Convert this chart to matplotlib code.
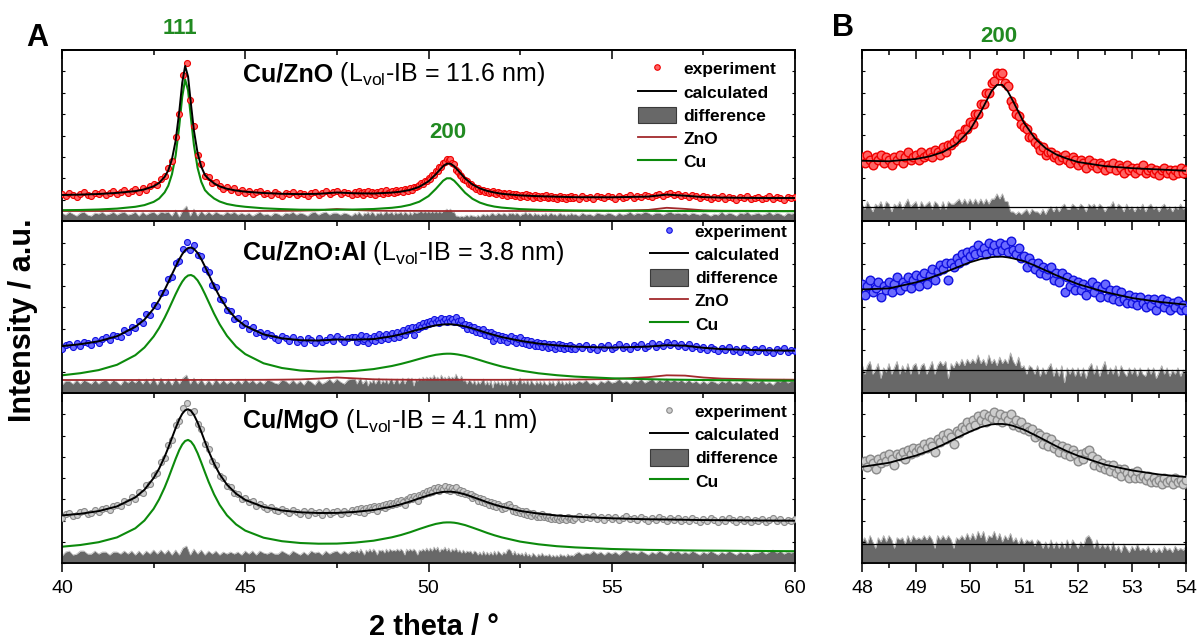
import numpy as np
import matplotlib
matplotlib.use("Agg")
import matplotlib.pyplot as plt
from matplotlib.ticker import MultipleLocator, LinearLocator
from matplotlib.lines import Line2D
from matplotlib.patches import Patch

plt.rcParams["font.family"] = "Liberation Sans"
plt.rcParams["mathtext.fontset"] = "custom"
plt.rcParams["mathtext.rm"] = "Liberation Sans"
plt.rcParams["mathtext.bf"] = "Liberation Sans:bold"
plt.rcParams["mathtext.it"] = "Liberation Sans:italic"

# 2 theta grid of the fitted curves (calculated pattern and phase components)
tt_fit = [40, 40.5, 41, 41.5, 42, 42.25, 42.5, 42.65, 42.8, 42.9,
          43.0, 43.1, 43.2, 43.28, 43.36, 43.44, 43.52, 43.6, 43.7, 43.8,
          43.9, 44.0, 44.15, 44.3, 44.5, 44.75, 45, 45.5, 46, 46.5,
          47, 47.5, 48, 48.5, 49, 49.25, 49.5, 49.75, 50, 50.2,
          50.4, 50.5, 50.6, 50.7, 50.8, 51, 51.2, 51.4, 51.6, 51.8,
          52, 52.5, 53, 53.5, 54, 55, 56, 56.5, 57, 57.5,
          58, 59, 60]

# 2 theta of the measured points: 0.1 deg steps, 0.05 deg between 48 and 54
tt_obs = np.round(np.concatenate([np.arange(400, 480) / 10,
                                  np.arange(960, 1080) / 20,
                                  np.arange(540, 601) / 10]), 2)

# ---- Cu/ZnO ----
cu_zno_calc = [26.0, 26.4, 27.0, 28.1, 29.9, 31.6, 34.7, 38.1, 44.1, 50.6,
               61.8, 80.1, 109.5, 138.1, 155.1, 144.4, 116.5, 90.4, 67.9, 54.3,
               46.0, 42.1, 37.6, 34.6, 32.2, 30.5, 29.3, 28.0, 27.2, 26.9,
               27.2, 28.5, 27.7, 27.5, 28.4, 29.4, 31.1, 34.2, 39.7, 46.8,
               54.9, 57.3, 57.3, 54.8, 50.8, 42.5, 36.5, 32.6, 30.1, 28.5,
               27.2, 25.6, 24.8, 24.3, 23.8, 23.7, 24.4, 26.4, 25.3, 23.9,
               23.4, 23.0, 23.0]
cu_zno_cu = [10.8, 11.0, 11.5, 12.4, 14.2, 15.9, 19.1, 22.5, 28.6, 35.3,
             46.7, 65.3, 95.2, 124.2, 141.5, 130.6, 102.3, 75.9, 53.1, 39.2,
             30.9, 27.0, 22.5, 19.5, 17.0, 15.3, 14.2, 12.7, 11.9, 11.3,
             11.2, 11.3, 11.5, 12.0, 13.2, 14.3, 16.2, 19.3, 24.9, 32.1,
             40.3, 42.7, 42.7, 40.3, 36.4, 28.2, 22.2, 18.4, 16.0, 14.4,
             13.4, 11.9, 11.2, 10.8, 10.5, 10.2, 10.1, 10.0, 10.0, 9.9,
             9.9, 9.9, 9.8]
cu_zno_zno = [10.0, 10.0, 10.0, 10.0, 10.0, 10.0, 10.0, 10.0, 10.0, 10.0,
              10.0, 10.0, 10.0, 10.0, 10.0, 10.0, 10.0, 10.0, 10.0, 10.0,
              10.0, 10.0, 10.0, 10.0, 10.0, 10.0, 10.0, 10.05, 10.1, 10.3,
              10.7, 12.0, 10.9, 10.3, 10.15, 10.1, 10.1, 10.05, 10.05, 10.0,
              10.0, 10.0, 10.0, 10.0, 10.0, 10.0, 10.0, 10.0, 10.0, 10.0,
              10.0, 10.0, 10.05, 10.05, 10.1, 10.2, 11.1, 13.2, 12.1, 10.7,
              10.3, 10.1, 10.1]
cu_zno_obs = [27, 25, 28, 26, 24, 27, 29, 26, 25, 28,
              27, 29, 26, 28, 30, 27, 29, 31, 28, 30,
              32, 29, 33, 31, 35, 37, 36, 42, 45, 53,
              60, 84, 107, 146, 158, 121, 95, 66, 57, 45,
              44, 38, 39, 35, 32, 34, 31, 33, 29, 31,
              28, 30, 27, 29, 30, 27, 28, 26, 29, 27,
              25, 28, 27, 29, 26, 28, 27, 25, 28, 29,
              26, 28, 30, 27, 29, 30, 27, 29, 28, 26,
              29, 27, 30, 28, 26, 29, 28, 30, 27, 29,
              28, 26, 29, 28, 30, 27, 29, 31, 28, 29,
              30, 28, 31, 29, 30, 31, 29, 32, 31, 30,
              33, 31, 34, 34, 35, 36, 38, 37, 40, 40,
              43, 42, 46, 46, 50, 50, 54, 54, 58, 59,
              62, 61, 62, 58, 57, 51, 49, 46, 45, 42,
              41, 40, 37, 37, 35, 34, 32, 33, 30, 31,
              31, 29, 30, 28, 29, 30, 28, 27, 29, 28,
              26, 28, 27, 25, 28, 26, 27, 25, 27, 26,
              24, 26, 25, 27, 24, 26, 25, 23, 26, 24,
              25, 23, 25, 24, 26, 23, 24, 25, 23, 24,
              22, 24, 25, 23, 24, 22, 24, 23, 25, 23,
              24, 22, 25, 23, 24, 22, 25, 24, 23, 25,
              24, 22, 25, 23, 24, 26, 23, 25, 24, 26,
              25, 24, 26, 27, 25, 27, 28, 26, 27, 25,
              26, 24, 26, 25, 23, 25, 24, 22, 24, 23,
              25, 22, 24, 23, 21, 24, 23, 25, 22, 23,
              24, 22, 23, 25, 22, 24, 23, 21, 24, 23,
              24]
cu_zno_diff = [1, -1, 2, 0, -2, 1, 2, -1, -2, 1,
               0, 2, -1, 0, 2, -1, 1, 2, -1, 0,
               2, -2, 2, -1, 1, 2, -1, 2, 1, 2,
               -2, 4, -3, 4, 8, -2, 5, -2, 3, -1,
               2, -1, 2, 0, -1, 2, 0, 2, -1, 1,
               -1, 1, -2, 0, 2, -1, 0, -2, 1, 0,
               -2, 1, 0, 2, -1, 1, 0, -2, 1, 2,
               -1, 1, 2, -1, 1, 1, -1, 1, 0, -2,
               1, -1, 2, 0, -2, 1, 0, 2, -1, 2,
               1, -2, 1, 0, 2, -1, 1, 3, 0, 1,
               2, -1, 2, 0, 1, 2, -1, 2, 1, -1,
               2, -1, 2, 1, 1, 2, 3, 1, 3, 1,
               3, 1, 3, 1, 3, 1, 3, 1, 3, 3,
               5, 3, 5, 2, 2, -2, -2, -3, -2, -3,
               -2, -1, -3, -1, -2, -2, -3, -1, -3, -1,
               0, -2, 0, -2, 0, 1, -1, -1, 1, 0,
               -1, 1, 0, -2, 1, 0, 1, -1, 1, 0,
               -2, 0, 0, 2, -1, 1, 0, -2, 1, -1,
               0, -2, 0, -1, 1, -2, 0, 1, -1, 0,
               -2, 0, 1, -1, 0, -2, 0, -1, 1, -1,
               0, -2, 1, -1, 0, -2, 1, 0, -1, 1,
               0, -2, 1, -1, 0, 2, -1, 1, 0, 2,
               1, -1, 1, 1, -1, 1, 2, 0, 1, 0,
               1, -1, 1, 0, -1, 1, 0, -2, 0, -1,
               2, -1, 1, 0, -2, 1, 0, 2, -1, 0,
               1, -1, 0, 2, -1, 1, 0, -2, 1, 0,
               1]

# ---- Cu/ZnO:Al ----
cu_znoal_calc = [46.9, 48.8, 51.7, 56.8, 66.1, 73.4, 84.4, 92.9, 103.1, 110.7,
                 118.7, 126.3, 133.7, 138.8, 142.7, 145.0, 145.5, 144.1, 140.1, 133.9,
                 126.5, 118.7, 106.9, 96.4, 84.8, 74.2, 67.1, 58.6, 54.7, 52.8,
                 52.5, 53.5, 53.4, 53.9, 56.7, 58.7, 61.1, 63.6, 66.1, 67.6,
                 68.5, 68.7, 68.7, 68.4, 67.9, 66.6, 64.6, 62.3, 60.0, 57.9,
                 55.9, 52.2, 49.4, 47.6, 46.3, 45.4, 46.4, 47.8, 47.3, 45.2,
                 43.9, 42.8, 42.3]
cu_znoal_cu = [17.7, 19.8, 22.9, 28.2, 37.8, 45.5, 56.5, 65.0, 75.2, 82.8,
               90.8, 98.8, 106.2, 111.3, 115.2, 117.5, 118.0, 116.6, 112.6, 106.4,
               99.0, 91.1, 79.3, 68.8, 57.2, 46.4, 38.9, 29.7, 25.0, 22.5,
               21.4, 21.3, 22.1, 23.9, 27.0, 29.1, 31.5, 34.1, 36.6, 38.2,
               39.1, 39.3, 39.3, 39.0, 38.5, 37.1, 35.1, 32.9, 30.6, 28.5,
               26.5, 22.5, 19.7, 17.8, 16.4, 14.7, 13.8, 13.4, 13.2, 13.0,
               12.8, 12.5, 12.3]
cu_znoal_zno = [13.0, 13.0, 13.0, 13.0, 13.0, 13.0, 13.05, 13.05, 13.05, 13.05,
                13.05, 13.05, 13.05, 13.05, 13.05, 13.05, 13.05, 13.05, 13.1, 13.1,
                13.1, 13.1, 13.1, 13.1, 13.1, 13.15, 13.15, 13.2, 13.35, 13.6,
                14.4, 15.5, 14.6, 13.7, 13.4, 13.3, 13.25, 13.2, 13.2, 13.2,
                13.2, 13.2, 13.2, 13.2, 13.2, 13.25, 13.2, 13.2, 13.2, 13.2,
                13.2, 13.25, 13.3, 13.35, 13.45, 13.95, 15.85, 17.7, 17.4, 15.5,
                14.4, 13.55, 13.3]
cu_znoal_obs = [44, 48, 49, 46, 50, 47, 51, 50, 48, 53,
                50, 54, 56, 53, 58, 57, 56, 63, 61, 66,
                65, 72, 70, 79, 78, 88, 87, 100, 101, 114,
                116, 130, 132, 144, 151, 143, 148, 138, 137, 124,
                121, 108, 106, 94, 93, 83, 82, 74, 75, 68,
                70, 64, 66, 60, 61, 57, 60, 58, 55, 53,
                57, 55, 52, 56, 51, 54, 50, 55, 53, 50,
                55, 51, 53, 56, 52, 57, 54, 51, 55, 56,
                56, 51, 55, 58, 52, 54, 57, 50, 55, 53,
                57, 52, 56, 59, 53, 57, 55, 59, 54, 58,
                60, 55, 59, 61, 56, 60, 63, 58, 62, 65,
                63, 66, 58, 66, 64, 68, 66, 70, 67, 71,
                69, 72, 70, 74, 71, 73, 70, 75, 72, 74,
                71, 75, 72, 74, 71, 76, 72, 70, 73, 68,
                69, 64, 68, 66, 63, 66, 61, 64, 60, 63,
                64, 58, 61, 57, 61, 52, 59, 55, 58, 53,
                57, 53, 56, 51, 55, 57, 52, 55, 50, 54,
                56, 50, 53, 49, 53, 48, 52, 49, 47, 51,
                47, 50, 46, 50, 47, 45, 49, 46, 49, 44,
                47, 49, 45, 48, 44, 47, 45, 48, 44, 46,
                44, 47, 45, 48, 44, 46, 43, 47, 45, 48,
                44, 46, 49, 45, 47, 44, 48, 46, 49, 45,
                47, 50, 46, 49, 47, 51, 48, 50, 47, 49,
                46, 49, 45, 47, 44, 46, 43, 46, 44, 42,
                45, 43, 46, 42, 44, 41, 45, 43, 41, 44,
                42, 45, 41, 43, 40, 44, 42, 45, 41, 43,
                42]
cu_znoal_diff = [-3, 1, 1, -2, 2, -2, 2, 0, -2, 2,
                 -2, 1, 2, -2, 2, 0, -3, 2, -1, 2,
                 -1, 3, -2, 3, -2, 4, -3, 4, -2, 3,
                 -3, 4, -2, 4, 7, -2, 4, -2, 3, -3,
                 2, -3, 3, -2, 2, -2, 1, -2, 2, -2,
                 3, -1, 2, -2, 1, -2, 2, 1, -1, -2,
                 2, 1, -2, 2, -2, 1, -3, 2, 0, -3,
                 2, -2, 0, 3, -1, 3, 0, -2, 2, 3,
                 3, -2, 2, 4, -2, 0, 3, -4, 1, -1,
                 3, -2, 1, 4, -2, 2, -1, 3, -2, 2,
                 3, -2, 2, 3, -2, 1, 4, -2, 2, 4,
                 2, 4, -4, 3, 1, 4, 2, 5, 2, 5,
                 3, 5, 3, 7, 3, 5, 2, 7, 3, 5,
                 2, 6, 3, 5, 3, 8, 4, 2, 6, 1,
                 2, -2, 2, 1, -2, 2, -3, 1, -2, 1,
                 3, -3, 1, -3, 2, -6, 1, -2, 1, -3,
                 1, -3, 1, -4, 1, 3, -2, 2, -3, 1,
                 4, -2, 1, -2, 2, -3, 2, -1, -3, 1,
                 -2, 1, -3, 1, -2, -3, 1, -2, 1, -4,
                 -1, 2, -2, 1, -3, 0, -2, 1, -3, 0,
                 -2, 1, -1, 2, -2, 0, -3, 1, -1, 2,
                 -1, 0, 3, -1, 1, -2, 2, 0, 3, -1,
                 1, 3, -1, 2, 0, 3, 0, 2, 0, 2,
                 -1, 2, -1, 1, -2, 1, -2, 1, 0, -2,
                 1, -1, 2, -2, 0, -2, 2, 0, -2, 1,
                 -1, 2, -2, 0, -3, 1, 0, 3, -1, 1,
                 0]

# ---- Cu/MgO ----
cu_mgo_calc = [47.6, 49.2, 51.9, 56.6, 65.6, 73.3, 85.0, 94.4, 106.2, 115.3,
               125.1, 134.8, 143.7, 149.2, 152.7, 153.8, 152.1, 148.1, 140.5, 131.2,
               121.4, 111.9, 99.3, 88.9, 78.4, 69.3, 63.1, 56.0, 52.5, 50.7,
               50.0, 50.1, 51.1, 53.0, 56.4, 58.7, 61.5, 64.7, 67.7, 69.8,
               71.1, 71.3, 71.3, 71.0, 70.4, 68.6, 66.1, 63.5, 60.8, 58.4,
               56.3, 52.1, 49.4, 47.5, 46.3, 44.7, 43.7, 43.5, 43.2, 42.9,
               42.8, 42.5, 42.3]
cu_mgo_cu = [16.3, 18.0, 20.8, 25.6, 34.7, 42.5, 54.2, 63.7, 75.5, 84.6,
             94.4, 104.1, 113.0, 118.5, 122.0, 123.1, 121.4, 117.4, 109.8, 100.5,
             90.7, 81.2, 68.6, 58.2, 47.7, 38.6, 32.4, 25.3, 21.8, 20.0,
             19.3, 19.4, 20.4, 22.3, 25.7, 28.0, 30.8, 34.0, 37.0, 39.1,
             40.4, 40.6, 40.6, 40.3, 39.7, 37.9, 35.4, 32.8, 30.1, 27.7,
             25.6, 21.4, 18.7, 16.8, 15.6, 14.0, 13.1, 12.9, 12.6, 12.4,
             12.3, 12.0, 11.8]
cu_mgo_obs = [45, 49, 50, 47, 48, 51, 52, 49, 50, 53,
              51, 54, 55, 53, 57, 58, 57, 62, 61, 66,
              64, 71, 70, 78, 79, 88, 90, 101, 105, 118,
              123, 138, 142, 155, 160, 151, 152, 139, 134, 119,
              114, 102, 98, 87, 85, 77, 76, 70, 69, 64,
              65, 61, 62, 57, 59, 56, 54, 56, 53, 52,
              54, 52, 50, 53, 51, 49, 52, 48, 52, 50,
              51, 48, 52, 49, 51, 52, 49, 52, 50, 53,
              52, 54, 51, 55, 53, 50, 55, 53, 56, 54,
              57, 55, 52, 57, 56, 58, 55, 59, 57, 60,
              58, 60, 59, 62, 60, 63, 61, 58, 64, 63,
              66, 64, 67, 65, 62, 68, 67, 70, 69, 72,
              70, 73, 71, 75, 73, 76, 72, 75, 74, 77,
              73, 76, 72, 75, 73, 76, 71, 73, 70, 72,
              69, 70, 68, 69, 65, 67, 66, 62, 65, 61,
              64, 60, 62, 58, 61, 57, 60, 56, 59, 57,
              54, 57, 55, 58, 59, 56, 52, 55, 51, 53,
              50, 52, 49, 52, 48, 50, 47, 50, 48, 46,
              48, 46, 49, 46, 47, 45, 47, 44, 46, 44,
              45, 43, 46, 44, 45, 43, 46, 44, 45, 43,
              45, 47, 44, 46, 45, 47, 44, 46, 43, 46,
              44, 46, 43, 45, 47, 44, 45, 43, 46, 44,
              42, 45, 43, 46, 44, 42, 45, 43, 45, 42,
              44, 42, 45, 43, 41, 44, 42, 45, 43, 41,
              44, 42, 45, 43, 41, 44, 42, 44, 41, 43,
              42, 44, 41, 43, 45, 42, 44, 41, 43, 42,
              44]
cu_mgo_diff = [-3, 1, 2, -2, -1, 2, 2, -1, -1, 2,
               -1, 1, 1, -2, 1, 1, -1, 2, -1, 2,
               -2, 2, -2, 2, -1, 3, -1, 3, -1, 3,
               -2, 3, -2, 5, 7, -2, 4, -1, 3, -2,
               2, -1, 2, -2, 1, -1, 1, -1, 1, -2,
               2, -1, 2, -2, 2, 0, -1, 1, -1, -1,
               2, 0, -2, 2, 0, -2, 1, -2, 2, 0,
               1, -2, 2, -1, 1, 2, -1, 2, -1, 2,
               1, 3, 0, 4, 1, -2, 3, 1, 4, 1,
               4, 2, -2, 3, 2, 3, 0, 4, 1, 4,
               2, 3, 2, 4, 2, 4, 2, -2, 4, 2,
               4, 2, 4, 2, -2, 3, 2, 4, 2, 5,
               2, 5, 2, 6, 3, 6, 1, 4, 3, 6,
               2, 5, 1, 4, 2, 5, 1, 3, 0, 3,
               0, 2, 1, 2, -1, 2, 1, -2, 1, -2,
               2, -2, 1, -2, 1, -2, 2, -2, 2, 0,
               -2, 1, -1, 3, 4, 2, -2, 2, -2, 0,
               -2, 0, -3, 1, -3, -1, -4, 0, -2, -4,
               -1, -3, 0, -3, -2, -3, -1, -4, -2, -4,
               -2, -4, -1, -3, -2, -4, -1, -3, -2, -3,
               -1, 1, -2, 0, -1, 2, -1, 1, -2, 1,
               -1, 1, -2, 1, 3, 0, 1, -1, 2, 0,
               -2, 1, -1, 2, 0, -2, 2, 0, 2, -1,
               1, -1, 2, 0, -2, 1, -1, 2, 0, -2,
               1, -1, 2, 0, -2, 1, -1, 1, -2, 0,
               0, 2, -1, 1, 3, 0, 2, -1, 1, 0,
               2]

CU_C = "#0c8a0c"
ZNO_C = "#a3292c"
HKL_C = "#218a21"
DIFF_FILL = "#686868"
DIFF_EDGE = "#b4b4b4"

panels = [
    dict(name="Cu/ZnO", lvol="11.6", obs=cu_zno_obs, calc=cu_zno_calc, diff=cu_zno_diff,
         cu=cu_zno_cu, zno=cu_zno_zno, mfc="#ff6464", mec="#f00000",
         rows=(50, 221), ylim_a=(0, 171), ylim_b=(4.2, 70.9), off_a=7, off_b=9.8,
         title_y=81, leg=(0.974, 0.940)),
    dict(name="Cu/ZnO:Al", lvol="3.8", obs=cu_znoal_obs, calc=cu_znoal_calc, diff=cu_znoal_diff,
         cu=cu_znoal_cu, zno=cu_znoal_zno, mfc="#6a6aff", mec="#1010e0",
         rows=(221, 393), ylim_a=(0, 172), ylim_b=(5.0, 85.4), off_a=11, off_b=15.8,
         title_y=260, leg=(0.990, 0.990)),
    dict(name="Cu/MgO", lvol="4.1", obs=cu_mgo_obs, calc=cu_mgo_calc, diff=cu_mgo_diff,
         cu=cu_mgo_cu, zno=None, mfc="#cdcdcd", mec="#8a8a8a",
         rows=(393, 563), ylim_a=(0, 170), ylim_b=(5.75, 85.9), off_a=10, off_b=14.7,
         title_y=428, leg=(0.990, 0.942)),
]

W, H = 1198.0, 641.0
fig = plt.figure(figsize=(W / 100, H / 100), dpi=100)


def add_axes_px(x0, y0, x1, y1):
    return fig.add_axes([x0 / W, 1 - y1 / H, (x1 - x0) / W, (y1 - y0) / H])


def style_axis(ax, major, minor, labels):
    for s in ax.spines.values():
        s.set_linewidth(1.3)
    ax.xaxis.set_major_locator(MultipleLocator(major))
    ax.xaxis.set_minor_locator(MultipleLocator(minor))
    ax.tick_params(axis="x", which="both", top=False, bottom=labels,
                   labelbottom=labels, direction="out", width=1.1,
                   labelsize=14, pad=6)
    ax.tick_params(axis="x", which="major", length=6.5)
    ax.tick_params(axis="x", which="minor", length=3.5)
    sec = ax.secondary_xaxis("top")
    sec.xaxis.set_major_locator(MultipleLocator(major))
    sec.xaxis.set_minor_locator(MultipleLocator(minor))
    sec.tick_params(axis="x", which="both", direction="in", labeltop=False, width=1.1)
    sec.tick_params(axis="x", which="major", length=6.5)
    sec.tick_params(axis="x", which="minor", length=3.5)
    sec.spines["top"].set_linewidth(1.3)
    ax.yaxis.set_major_locator(LinearLocator(9))
    ax.tick_params(axis="y", which="major", left=True, right=True,
                   direction="in", length=2.5, width=0.8, labelleft=False)


titles = []
for i, p in enumerate(panels):
    top, bot = p["rows"]
    last = i == len(panels) - 1

    # panel A: full range with components
    ax = add_axes_px(62, top, 795, bot)
    d_a = np.asarray(p["diff"]) + p["off_a"]
    ax.fill_between(tt_obs, -50, d_a, color=DIFF_FILL, lw=0, zorder=1)
    ax.plot(tt_obs, d_a, color=DIFF_EDGE, lw=0.5, zorder=1.2)
    if p["zno"] is not None:
        ax.plot(tt_fit, p["zno"], color=ZNO_C, lw=1.3, zorder=2)
    ax.plot(tt_fit, p["cu"], color=CU_C, lw=1.5, zorder=2)
    ax.plot(tt_obs, p["obs"], ls="none", marker="o", ms=4.3, mfc=p["mfc"],
            mec=p["mec"], mew=0.8, zorder=3)
    ax.plot(tt_fit, p["calc"], color="k", lw=1.4, zorder=4)
    ax.set_xlim(40, 60)
    ax.set_ylim(*p["ylim_a"])
    style_axis(ax, 5, 2.5, last)

    handles = [Line2D([], [], ls="none", marker="o", ms=4, mfc=p["mfc"], mec=p["mec"], mew=0.8),
               Line2D([], [], color="k", lw=1.4),
               Patch(facecolor=DIFF_FILL, edgecolor="#3a3a3a", lw=0.8)]
    labels = ["experiment", "calculated", "difference"]
    if p["zno"] is not None:
        handles.append(Line2D([], [], color=ZNO_C, lw=1.3))
        labels.append("ZnO")
    handles.append(Line2D([], [], color=CU_C, lw=1.5))
    labels.append("Cu")
    ax.legend(handles, labels, loc="upper right", bbox_to_anchor=p["leg"],
              frameon=False, prop=dict(weight="bold", size=12.5), numpoints=1,
              handlelength=2.2, handleheight=1.1, handletextpad=0.4,
              labelspacing=0.34, borderpad=0, borderaxespad=0)

    t1 = fig.text(243 / W, 1 - p["title_y"] / H, p["name"], fontsize=18,
                  fontweight="bold", va="baseline")
    t2 = fig.text(0, 1 - p["title_y"] / H,
                  " (L$_{\\mathrm{vol}}$-IB = %s nm)" % p["lvol"],
                  fontsize=18, va="baseline")
    titles.append((t1, t2))

    # panel B: zoom on the 200 reflection
    axb = add_axes_px(862, top, 1186, bot)
    d_b = np.asarray(p["diff"]) + p["off_b"]
    axb.fill_between(tt_obs, -50, d_b, color=DIFF_FILL, lw=0, zorder=1)
    axb.plot(tt_obs, d_b, color=DIFF_EDGE, lw=0.6, zorder=1.2)
    axb.axhline(p["off_b"], color="k", lw=0.9, zorder=1.5)
    axb.plot(tt_obs, p["obs"], ls="none", marker="o", ms=6.2, mfc=p["mfc"],
             mec=p["mec"], mew=1.0, zorder=3)
    axb.plot(tt_fit, p["calc"], color="k", lw=1.3, zorder=4)
    axb.set_xlim(48, 54)
    axb.set_ylim(*p["ylim_b"])
    style_axis(axb, 1, 0.5, last)


def ftext(x, y, s, **kw):
    return fig.text(x / W, 1 - y / H, s, **kw)


ftext(37, 38, "A", fontsize=22, fontweight="bold", ha="center", va="center")
ftext(843, 28, "B", fontsize=22, fontweight="bold", ha="center", va="center")
ftext(180, 28, "111", fontsize=16, fontweight="bold", color=HKL_C, ha="center", va="center")
ftext(448, 132, "200", fontsize=16, fontweight="bold", color=HKL_C, ha="center", va="center")
ftext(999, 36, "200", fontsize=16, fontweight="bold", color=HKL_C, ha="center", va="center")
ftext(434, 635, "2 theta / °", fontsize=21, fontweight="bold", ha="center", va="baseline")
ftext(23, 320, "Intensity / a.u.", fontsize=22, fontweight="bold", rotation=90,
      ha="center", va="center")

fig.canvas.draw()
for t1, t2 in titles:
    bb = t1.get_window_extent()
    t2.set_x(bb.x1 / fig.bbox.width)

fig.savefig("out.png", dpi=100)
